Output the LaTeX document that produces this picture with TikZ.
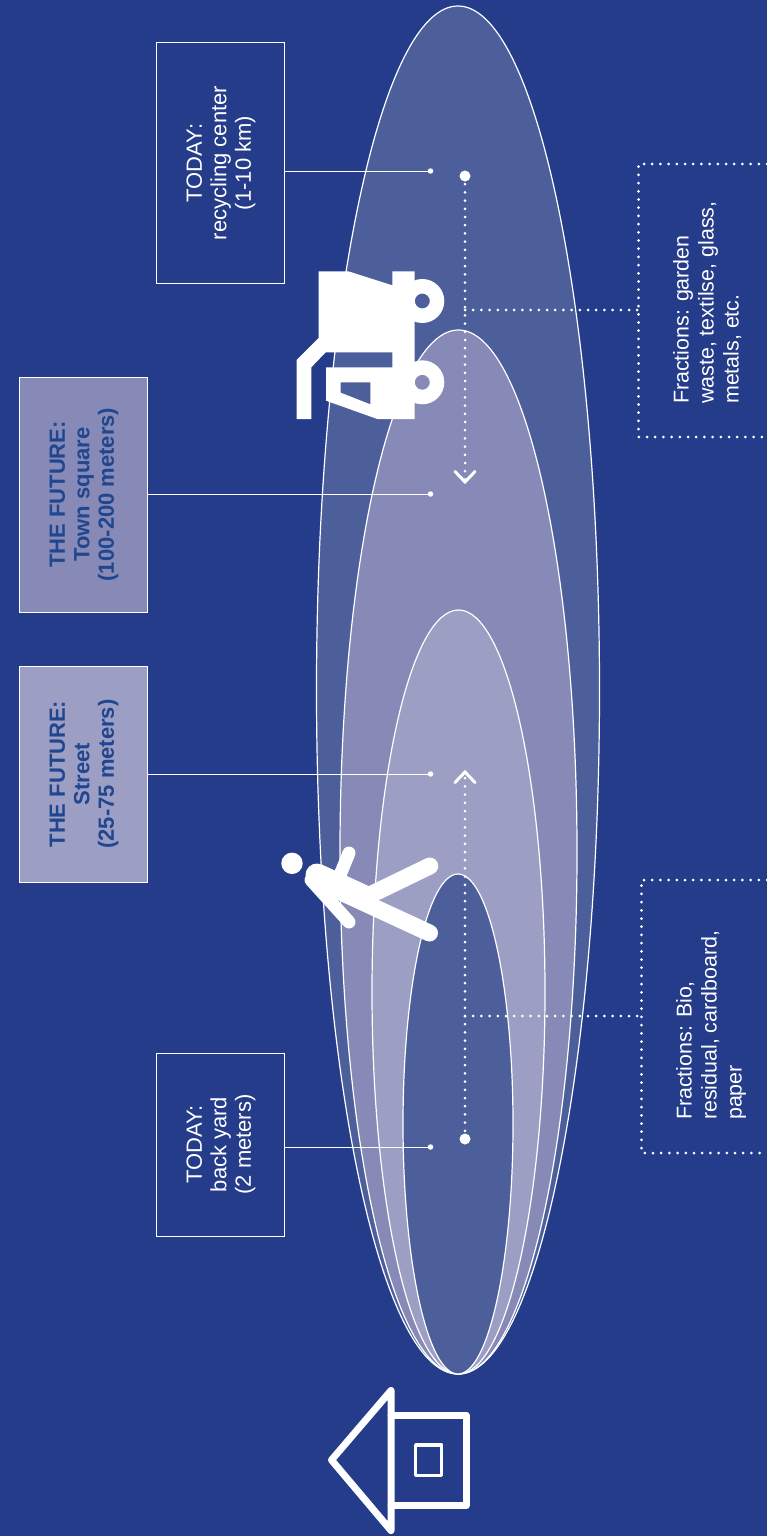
\documentclass[tikz,border=0pt]{standalone}
\usepackage{fontspec}
\setmainfont{Liberation Sans}
\usepackage{graphicx}
\definecolor{bg}{HTML}{243C8A}
\definecolor{ringa}{HTML}{4C5F9B}
\definecolor{ringb}{HTML}{8789B6}
\definecolor{ringc}{HTML}{9C9EC3}
\definecolor{inkblue}{HTML}{1F468F}
\tikzset{
  ring/.style={draw=white,line width=1.2pt},
  infobox/.style={draw=white,line width=1pt,inner sep=0pt,text=white,align=center},
  futurebox/.style={infobox,text=inkblue},
  leader/.style={draw=white,line width=1pt},
  leaderdot/.style={circle,fill=white,inner sep=0pt,minimum size=5.5pt},
  startdot/.style={circle,fill=white,inner sep=0pt,minimum size=11pt},
  dotline/.style={draw=white,line width=3pt,line cap=round,dash pattern=on 0pt off 8.2pt},
  thindot/.style={draw=white,line width=3pt,line cap=round,dash pattern=on 0pt off 8.2pt},
  chevron/.style={draw=white,line width=3pt,line cap=round,line join=miter},
  labeltext/.style={text=white,inner sep=0pt,anchor=south west},
  icon/.style={fill=white,draw=none},
  limb/.style={draw=white,line cap=round},
  houseline/.style={draw=white,line join=round,line cap=round},
}
\newcommand{\bx}[1]{\hspace*{3pt}\rotatebox{90}{\fontsize{22}{24.5}\selectfont\begin{tabular}{@{}c@{}}#1\end{tabular}}}
\begin{document}
\begin{tikzpicture}[x=1pt,y=-1pt]
\useasboundingbox[fill=bg] (0,0) rectangle (767,1536);
% ellipses
\path[ring,fill=ringa] (458,690) ellipse [x radius=141.5,y radius=684];
\path[ring,fill=ringb] (458.5,852) ellipse [x radius=118.5,y radius=522];
\path[ring,fill=ringc] (458.5,992) ellipse [x radius=86.5,y radius=382];
\path[ring,fill=ringa] (458,1124) ellipse [x radius=55,y radius=250];
% boxes
\node[infobox,minimum width=128pt,minimum height=240pt] (recycle) at (220,163) {\bx{TODAY:\\recycling center\\(1-10 km)}};
\node[futurebox,fill=ringb,minimum width=128pt,minimum height=235pt] (town) at (83,494.5) {\bx{\textbf{THE FUTURE:}\\\textbf{Town square}\\\textbf{(100-200 meters)}}};
\node[futurebox,fill=ringc,minimum width=128pt,minimum height=216pt] (street) at (83,774) {\bx{\textbf{THE FUTURE:}\\\textbf{Street}\\\textbf{(25-75 meters)}}};
\node[infobox,minimum width=128pt,minimum height=183pt] (yard) at (220,1144.5) {\bx{TODAY:\\back yard\\(2 meters)}};
% leader dots
\node[leaderdot] (d1) at (430.5,171) {};
\node[leaderdot] (d2) at (430.5,494) {};
\node[leaderdot] (d3) at (430.5,774) {};
\node[leaderdot] (d4) at (430.5,1147) {};
\draw[leader] (recycle.east |- d1) -- (d1.center);
\draw[leader] (town.east |- d2) -- (d2.center);
\draw[leader] (street.east |- d3) -- (d3.center);
\draw[leader] (yard.east |- d4) -- (d4.center);
% dotted routes
\node[startdot] (s1) at (465,176) {};
\node[startdot] (s2) at (465,1139) {};
\coordinate (t1) at (465,482);
\coordinate (t2) at (465,772);
\draw[dotline] (s1.center) -- (t1);
\draw[dotline] (s2.center) -- (t2);
\draw[chevron] (455,471.5) -- (t1) -- (475,471.5);
\draw[chevron] (455,782.5) -- (t2) -- (475,782.5);
% fraction boxes
\coordinate (b1) at (465,310);
\coordinate (c1) at (638.5,310);
\coordinate (b2) at (465,1016);
\coordinate (c2) at (641.5,1016);
\draw[thindot] (b1) -- (c1);
\draw[thindot] (b2) -- (c2);
\draw[thindot] (767,164) -- (638.5,164) -- (638.5,437) -- (767,437);
\draw[thindot] (767,880) -- (641.5,880) -- (641.5,1153) -- (767,1153);
\node[labeltext] (f1) at (671,404) {\rotatebox{90}{\fontsize{21.4}{25}\selectfont\begin{tabular}{@{}l@{}}Fractions: garden\\waste, textilse, glass,\\metals, etc.\end{tabular}}};
\node[labeltext] (f2) at (674,1120) {\rotatebox{90}{\fontsize{21.4}{25}\selectfont\begin{tabular}{@{}l@{}}Fractions: Bio,\\residual, cardboard,\\paper\end{tabular}}};
% truck
\path[icon,even odd rule] (318.7,271.3) -- (348.3,271.3) -- (392.3,285.3) -- (392.3,271.3) -- (414.7,271.3) -- (414.7,419) -- (377.3,419) -- (326,400.7) -- (326,367.3) -- (392.3,367.3) -- (392.3,352.3) -- (325.7,352.3) -- (311.3,367.3) -- (311.3,419) -- (296.7,419) -- (296.7,360) -- (318.7,338) -- cycle
 (340.7,382.3) -- (370.3,382.3) -- (370.3,404.3) -- (340.7,392.7) -- cycle;
\path[icon,even odd rule] (422.3,301) circle [radius=22] (422.3,301) circle [radius=7.5];
\path[icon,even odd rule] (422.3,382.3) circle [radius=22] (422.3,382.3) circle [radius=7.5];
% person
\path[icon] (292,863.3) circle [radius=10.7];
\draw[limb,line width=13pt] (349,853) -- (340,875);
\draw[limb,line width=13pt] (349,922) -- (311,880);
\draw[limb,line width=23pt] (317,875) -- (365,897);
\draw[limb,line width=17pt] (429.8,866) -- (370,895);
\draw[limb,line width=17pt] (429.5,933) -- (330,887);
% house
\draw[houseline,line width=7pt] (391,1390.5) -- (331.5,1460) -- (391,1530.5) -- cycle;
\draw[houseline,line width=7pt] (391,1415) -- (466,1415) -- (466,1505.7) -- (391,1505.7);
\draw[houseline,line width=3.4pt] (415.7,1445) rectangle (441.7,1475.7);
\end{tikzpicture}
\end{document}
